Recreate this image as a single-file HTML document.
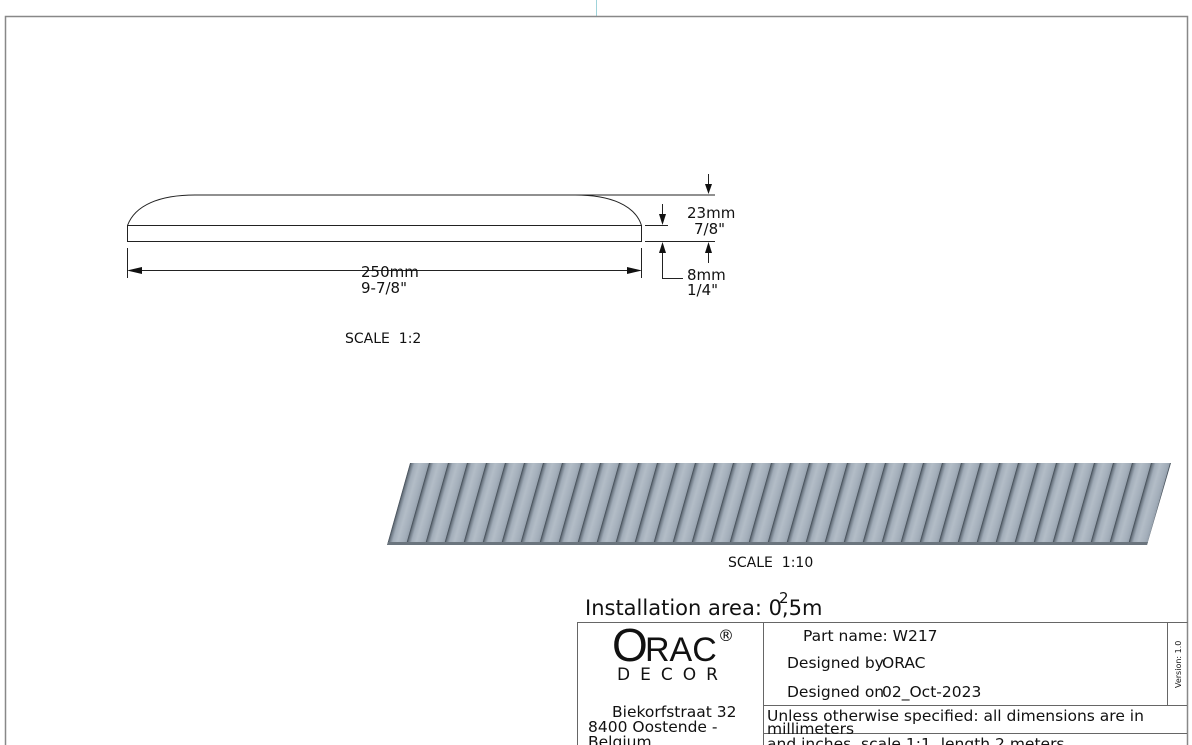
<!DOCTYPE html>
<html><head><meta charset="utf-8"><style>
html,body{margin:0;padding:0;background:#fff;width:1192px;height:745px;overflow:hidden}
svg{display:block}
text{font-family:"DejaVu Sans","Liberation Sans",sans-serif;fill:#111}
</style></head><body>
<svg width="1192" height="745" viewBox="0 0 1192 745" xmlns="http://www.w3.org/2000/svg">
<defs>
<linearGradient id="rib" x1="0" y1="0" x2="1" y2="0">
<stop offset="0" stop-color="#3a434c"/>
<stop offset="0.08" stop-color="#6c7782"/>
<stop offset="0.25" stop-color="#a2adb9"/>
<stop offset="0.5" stop-color="#b3bdc7"/>
<stop offset="0.85" stop-color="#a3aeba"/>
<stop offset="1" stop-color="#95a0ac"/>
</linearGradient>
<pattern id="ribs" width="19" height="100" patternUnits="userSpaceOnUse" patternTransform="translate(410,463) skewX(-15.7)">
<rect x="0" y="0" width="19" height="100" fill="url(#rib)"/>
</pattern>
</defs>
<line x1="596.5" y1="0" x2="596.5" y2="16" stroke="#9fd3da" stroke-width="1"/>
<polyline points="5.5,745 5.5,16.5 1187.5,16.5 1187.5,745" fill="none" stroke="#888" stroke-width="1.5"/>

<g stroke="#222" stroke-width="1" fill="none">
<rect x="127.5" y="225.5" width="514" height="16"/>
<path d="M127.5,225.5 C135,205 160,195 195,195 L575,195 C610,195 635,205 641.5,225.5"/>
<line x1="390" y1="195" x2="715" y2="195"/>
<line x1="645" y1="225.5" x2="668" y2="225.5"/>
<line x1="645" y1="241.5" x2="715" y2="241.5"/>
<line x1="127.5" y1="248" x2="127.5" y2="278"/>
<line x1="641.5" y1="248" x2="641.5" y2="278"/>
<line x1="140" y1="270.5" x2="628" y2="270.5"/>
<line x1="708.5" y1="174" x2="708.5" y2="185"/>
<line x1="708.5" y1="252" x2="708.5" y2="263"/>
<line x1="662.5" y1="204" x2="662.5" y2="215"/>
<polyline points="662.5,252 662.5,278.5 683,278.5"/>
</g>
<g fill="#111">
<polygon points="127,270.5 142,267 142,274"/>
<polygon points="642,270.5 627,267 627,274"/>
<polygon points="708.5,194 705,184 712,184"/>
<polygon points="708.5,242 705,253 712,253"/>
<polygon points="662.5,225 659,214 666,214"/>
<polygon points="662.5,242 659,253 666,253"/>
</g>
<g font-size="15">
<text x="361" y="277">250mm</text>
<text x="361" y="293">9-7/8"</text>
<text x="687" y="218">23mm</text>
<text x="694" y="234">7/8"</text>
<text x="687" y="280">8mm</text>
<text x="687" y="295">1/4"</text>
<text x="345" y="343" font-size="14">SCALE&#160;&#160;1:2</text>
<text x="728" y="567" font-size="14">SCALE&#160;&#160;1:10</text>
</g>

<polygon points="410,463 1171,463 1147,545 387,545" fill="url(#ribs)"/>
<polygon points="388,542 1148,542 1147,545 387,545" fill="#6b757e"/>

<text x="585" y="615" font-size="21">Installation area: 0,5m</text>
<text x="779" y="603" font-size="15">2</text>

<g stroke="#666" stroke-width="1" fill="none">
<polyline points="577.5,745 577.5,622.5 1187.5,622.5"/>
<line x1="763.5" y1="622" x2="763.5" y2="745"/>
<line x1="1167.5" y1="622" x2="1167.5" y2="705"/>
<line x1="763" y1="705.5" x2="1187" y2="705.5"/>
<line x1="763" y1="733.5" x2="1187" y2="733.5"/>
</g>
<text x="612" y="661" font-size="46" style="font-family:'Liberation Sans',sans-serif">O</text>
<text x="645" y="661" font-size="34" style="font-family:'Liberation Sans',sans-serif">RAC</text>
<text x="718" y="641" font-size="16">®</text>
<text x="617" y="680" font-size="17" letter-spacing="10">DECOR</text>
<g font-size="15.5">
<text x="612" y="717">Biekorfstraat 32</text>
<text x="588" y="732">8400 Oostende -</text>
<text x="588" y="747">Belgium</text>
<text x="803" y="641">Part name: W217</text>
<text x="787" y="668">Designed by</text>
<text x="882" y="668">ORAC</text>
<text x="787" y="697">Designed on</text>
<text x="882" y="697">02_Oct-2023</text>
<text x="767" y="721">Unless otherwise specified: all dimensions are in</text>
<text x="767" y="734">millimeters</text>
<text x="767" y="749">and inches, scale 1:1, length 2 meters</text>
</g>
<text x="0" y="0" font-size="8" transform="translate(1181,688) rotate(-90)">Version: 1.0</text>
</svg>
</body></html>
